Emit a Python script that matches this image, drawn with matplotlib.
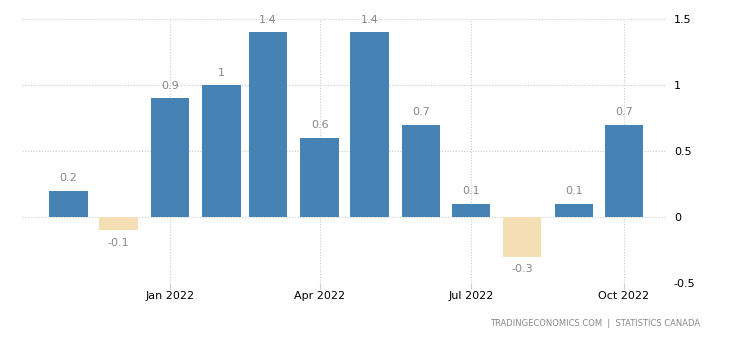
import numpy as np
import pandas as pd
import matplotlib.pyplot as plt
import matplotlib.dates as mdates

months = ["2021-11", "2021-12", "2022-01", "2022-02", "2022-03", "2022-04",
          "2022-05", "2022-06", "2022-07", "2022-08", "2022-09", "2022-10"]
values = [0.2, -0.1, 0.9, 1.0, 1.4, 0.6, 1.4, 0.7, 0.1, -0.3, 0.1, 0.7]
labels = ["0.2", "-0.1", "0.9", "1", "1.4", "0.6", "1.4", "0.7", "0.1", "-0.3", "0.1", "0.7"]
yticks = [-0.5, 0, 0.5, 1, 1.5]
ytick_labels = ["-0.5", "0", "0.5", "1", "1.5"]

dates = pd.to_datetime(months)
colors = ["#4682b4" if v >= 0 else "#f5deb3" for v in values]

fig = plt.figure(figsize=(7.3, 3.4), dpi=100)
ax = fig.add_axes([22 / 730, 1 - 283 / 340, (667 - 22) / 730, (283 - 19) / 340])

ax.bar(dates, values, width=23, color=colors, zorder=2)

for d, v, t in zip(dates, values, labels):
    off = 9 if v >= 0 else -9
    ax.annotate(t, (d, v), xytext=(0, off), textcoords="offset points",
                ha="center", va="center", fontsize=8, color="#888888")

ax.set_ylim(-0.5, 1.5)
ax.set_xlim(pd.Timestamp("2021-10-04"), pd.Timestamp("2022-10-27"))
ax.set_yticks(yticks)
ax.set_yticklabels(ytick_labels)
ax.yaxis.tick_right()

ax.xaxis.set_major_locator(mdates.MonthLocator(bymonth=[1, 4, 7, 10]))
ax.xaxis.set_major_formatter(mdates.DateFormatter("%b %Y"))

ax.grid(True, color="#cccccc", linestyle=(0, (1, 1.5)), linewidth=0.8, zorder=0)
for s in ax.spines.values():
    s.set_visible(False)
ax.tick_params(axis="y", length=0, pad=5, labelsize=8, labelcolor="#000000")
ax.tick_params(axis="x", length=4, color="#cccccc", pad=2, labelsize=8, labelcolor="#000000")

fig.text(700 / 730, 1 - 323 / 340, "TRADINGECONOMICS.COM  |  STATISTICS CANADA",
         ha="right", va="center", fontsize=6, color="#888888")

fig.savefig("out.png", dpi=100)
